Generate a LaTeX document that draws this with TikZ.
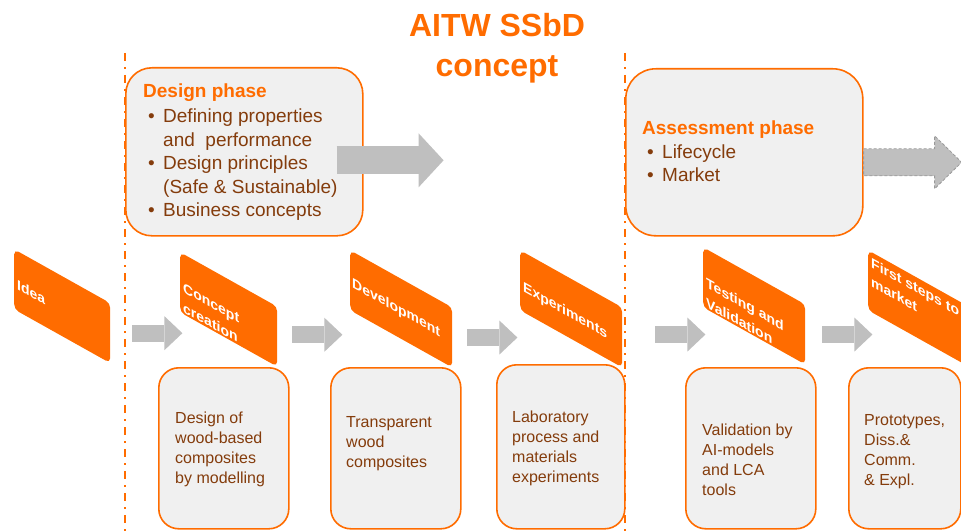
\documentclass[tikz,border=0pt]{standalone}
\usepackage{fontspec}
\setmainfont{Liberation Sans}
\usetikzlibrary{arrows.meta}
\usetikzlibrary{positioning}
\definecolor{sorange}{RGB}{255, 108, 0}
\definecolor{sbrown}{RGB}{132, 60, 12}
\definecolor{boxgray}{RGB}{240, 240, 240}
\definecolor{arrowgray}{RGB}{191, 191, 191}
\tikzset{title/.style = {anchor=north, align=center, inner sep=0pt, text=sorange,
                         font=\fontsize{32}{40}\selectfont\bfseries}}
\tikzset{phaseline/.style = {draw=sorange, line width=1.8pt,
                             dash pattern=on 8pt off 6pt on 2pt off 6pt}}
\tikzset{phasebox/.style = {draw=sorange, line width=1.6pt, fill=boxgray,
                            rounded corners=26pt, anchor=north west, inner sep=0pt}}
\tikzset{toolbox/.style = {phasebox, rounded corners=20pt}}
\tikzset{phasetext/.style = {anchor=north west, align=left, inner sep=0pt, text=sbrown,
                             font=\fontsize{19}{23.5}\selectfont}}
\tikzset{tooltext/.style = {anchor=north west, align=left, inner sep=0pt, text=sbrown,
                            font=\fontsize{16}{20}\selectfont}}
\tikzset{stepbox/.style = {fill=sorange, rounded corners=5pt, yslant=-0.56,
                           minimum height=60pt, anchor=north west, inner sep=0pt}}
\tikzset{steptext/.style = {anchor=north west, align=left, inner sep=0pt, yslant=-0.56,
                            text=white, font=\fontsize{14}{20}\selectfont\bfseries}}
\tikzset{flow/.style = {draw=arrowgray, line width=17pt,
                        -{Triangle[length=18pt, width=34pt, line width=0pt]}}}
\tikzset{bigflow/.style = {draw=arrowgray, line width=28pt,
                           -{Triangle[length=25pt, width=54pt, line width=0pt]}}}
\tikzset{dashflow/.style = {fill=arrowgray, draw=gray!80, line width=0.8pt,
                            dash pattern=on 3pt off 2pt}}
\newcommand{\bul}{\hspace*{5pt}\makebox[15pt][l]{\textbullet}}

\begin{document}
\begin{tikzpicture}[x=1pt, y=-1pt]
  \useasboundingbox (0, 0) rectangle (961, 532);
  \clip (0, 0) rectangle (961, 532);
  \node [title] (title) at (497, 13) {AITW SSbD\\concept};
  \draw [phaseline] (125, 53) -- (125, 532);
  \draw [phaseline] (625, 53) -- (625, 532);
  % design and assessment phases
  \node [phasebox, minimum width=237pt, minimum height=168pt] (design) at (125, 67) {};
  \node [phasetext] (design text) at (143, 84)
    {\textcolor{sorange}{\bfseries Design phase}\\[1.5pt]
     \bul Defining properties\\ \hspace*{20pt}and\ \ performance\\
     \bul Design principles\\ \hspace*{20pt}(Safe \& Sustainable)\\
     \bul Business concepts};
  \draw [bigflow] ([xshift=-27pt, yshift=-8.5pt]design.east) -- ++(107, 0);
  \node [phasebox, minimum width=237pt, minimum height=167pt, rounded corners=30pt] (assess) at (625, 68) {};
  \node [phasetext] (assess text) at (642, 121)
    {\textcolor{sorange}{\bfseries Assessment phase}\\
     \bul Lifecycle\\ \bul Market};
  \draw [dashflow] ([yshift=-10pt]assess.east) ++(0, -13.5) -- ++(71, 0) -- ++(0, -13)
    -- ++(27, 26.5) -- ++(-27, 26.5) -- ++(0, -13) -- ++(-71, 0) -- cycle;
  % steps
  \node [stepbox, minimum width=96pt] (idea) at (14, 249) {};
  \node [steptext] (idea text) at (17, 279) {Idea};
  \node [stepbox, minimum width=97pt] (concept) at (180, 252) {};
  \node [steptext] (concept text) at (183, 282) {Concept\\creation};
  \node [stepbox, minimum width=102pt] (development) at (350, 250) {};
  \node [steptext] (development text) at (352, 277) {Development};
  \node [stepbox, minimum width=102pt] (experiments) at (520, 250) {};
  \node [steptext] (experiments text) at (523, 281) {Experiments};
  \node [stepbox, minimum width=102pt] (testing) at (703, 247) {};
  \node [steptext] (testing text) at (706, 277) {Testing and\\Validation};
  \node [stepbox, minimum width=102pt] (market) at (868, 250) {};
  \node [steptext, font=\fontsize{14}{19}\selectfont\bfseries] (market text) at (871, 257) {First steps to\\market};
  \draw [flow] ([xshift=22pt]idea.east) -- ++(50, 0);
  \draw [flow] ([xshift=15pt, yshift=2pt]concept.east) -- ++(50, 0);
  \draw [flow] ([xshift=15pt]development.east) -- ++(50, 0);
  \draw [flow] ([xshift=33pt, yshift=3pt]experiments.east) -- ++(50, 0);
  \draw [flow] ([xshift=17pt]testing.east) -- ++(50, 0);
  % tools and results
  \node [toolbox, minimum width=130pt, minimum height=161pt] (modelling) at (158, 367) {};
  \node [tooltext] (modelling text) at (175, 412) {Design of\\wood-based\\composites\\by modelling};
  \node [toolbox, minimum width=130pt, minimum height=161pt] (wood) at (330, 367) {};
  \node [tooltext] (wood text) at (346, 416) {Transparent\\wood\\composites};
  \node [toolbox, minimum width=128pt, minimum height=164pt] (lab) at (496, 364) {};
  \node [tooltext] (lab text) at (512, 411) {Laboratory\\process and\\materials\\experiments};
  \node [toolbox, minimum width=130pt, minimum height=161pt] (validation) at (685, 367) {};
  \node [tooltext] (validation text) at (702, 424) {Validation by\\AI-models\\and LCA\\tools};
  \node [toolbox, minimum width=112pt, minimum height=161pt] (prototypes) at (848, 367) {};
  \node [tooltext] (prototypes text) at (864, 414) {Prototypes,\\Diss.\&\\Comm.\\\& Expl.};
\end{tikzpicture}
\end{document}
